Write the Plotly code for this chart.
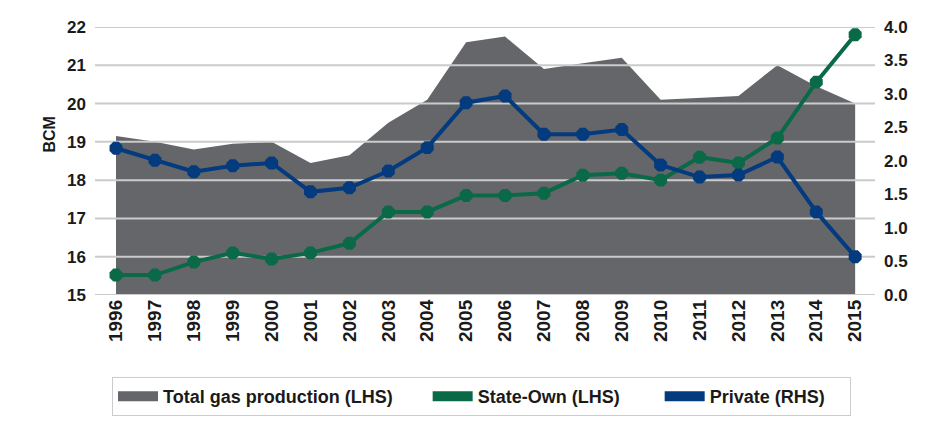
import plotly.graph_objects as go

years = [str(y) for y in range(1996, 2016)]
total_gas = [19.15, 19.0, 18.8, 18.95, 19.0, 18.45, 18.65, 19.5, 20.1, 21.6,
             21.75, 20.9, 21.05, 21.2, 20.1, 20.15, 20.2, 21.0, 20.45, 20.0]
state_own = [15.52, 15.52, 15.86, 16.1, 15.94, 16.1, 16.35, 17.17, 17.17, 17.6,
             17.6, 17.66, 18.13, 18.18, 18.0, 18.6, 18.45, 19.1, 20.56, 21.8]
private = [2.19, 2.01, 1.84, 1.93, 1.97, 1.54, 1.6, 1.85, 2.2, 2.87,
           2.97, 2.4, 2.4, 2.47, 1.94, 1.76, 1.79, 2.06, 1.24, 0.57]
left_ticks = [15, 16, 17, 18, 19, 20, 21, 22]
right_ticks = [0.0, 0.5, 1.0, 1.5, 2.0, 2.5, 3.0, 3.5, 4.0]
series_names = ["Total gas production (LHS)", "State-Own (LHS)", "Private (RHS)"]

GREY = "#65666a"
GREEN = "#0a6a48"
BLUE = "#043a7e"
GRID = "#cbcbcb"
FONT = "Liberation Sans, Arial, sans-serif"
NBSP = "\u00a0"
legend_pad = [6, 7, 4]

xi = list(range(len(years)))
xr = [-0.54, len(years) - 1 + 0.51]

fig = go.Figure()
fig.add_trace(go.Scatter(x=xi, y=total_gas, mode="lines", fill="tozeroy",
                         line=dict(color=GREY, width=0), fillcolor=GREY,
                         showlegend=False, hoverinfo="skip"))
# gridlines drawn above the area, below the lines
gx, gy = [], []
for t in left_ticks:
    gx += [xr[0], xr[1], None]
    gy += [t, t, None]
fig.add_trace(go.Scatter(x=gx, y=gy, mode="lines", line=dict(color=GRID, width=2),
                         showlegend=False, hoverinfo="skip"))
fig.add_trace(go.Scatter(x=xi, y=state_own, mode="lines+markers",
                         line=dict(color=GREEN, width=4),
                         marker=dict(color=GREEN, size=14, symbol="octagon"),
                         showlegend=False))
fig.add_trace(go.Scatter(x=xi, y=private, mode="lines+markers", yaxis="y2",
                         line=dict(color=BLUE, width=4),
                         marker=dict(color=BLUE, size=14, symbol="octagon"),
                         showlegend=False))
# legend swatches
for name, col, pad in zip(series_names, [GREY, GREEN, BLUE], legend_pad):
    fig.add_trace(go.Scatter(x=[None], y=[None], name=name + NBSP * pad, mode="lines",
                             line=dict(color=col, width=12)))

fig.add_annotation(text="BCM", xref="paper", yref="paper", x=-0.072, y=0.6,
                   textangle=-90, showarrow=False,
                   font=dict(size=16, family=FONT, weight="bold", color="#1a1a1a"))

fig.update_layout(
    width=944, height=426,
    margin=dict(l=95, r=69, t=27, b=131, autoexpand=False),
    plot_bgcolor="white", paper_bgcolor="white",
    font=dict(family=FONT, size=16, color="#1a1a1a"),
    xaxis=dict(range=xr, tickmode="array", tickvals=xi, ticktext=years,
               tickangle=-90, showgrid=False, zeroline=False, showline=False,
               ticks="", tickfont=dict(size=19, family=FONT, weight="bold")),
    yaxis=dict(range=[15, 22], tickvals=left_ticks, showgrid=False,
               zeroline=False, showline=False, ticklabelstandoff=8,
               tickfont=dict(size=17, family=FONT, weight="bold")),
    yaxis2=dict(range=[0, 4], tickvals=right_ticks, tickformat=".1f",
                overlaying="y", side="right", showgrid=False, zeroline=False,
                showline=False, ticklabelstandoff=8,
                tickfont=dict(size=17, family=FONT, weight="bold")),
    legend=dict(orientation="h", xref="container", yref="container",
                x=112 / 944, y=1 - 377 / 426, xanchor="left", yanchor="top",
                bordercolor="#cccccc", borderwidth=1,
                font=dict(size=18, family=FONT, weight="bold"),
                itemwidth=40),
    showlegend=True,
)

fig.write_html("out.html")
